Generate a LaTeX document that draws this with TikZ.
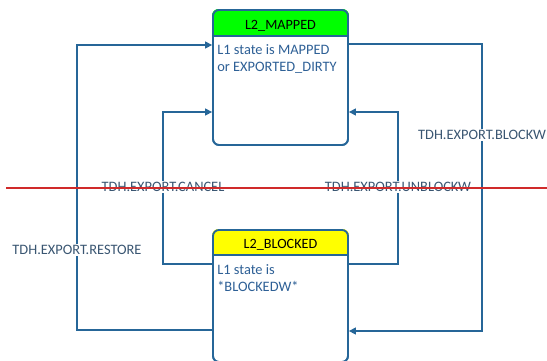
\documentclass[tikz,border=0pt]{standalone}
\usepackage{fontspec}
\setmainfont{Carlito}
\usetikzlibrary{arrows.meta}
\definecolor{wire}{RGB}{38,102,152}
\definecolor{bodytext}{RGB}{46,96,150}
\definecolor{lbltext}{RGB}{58,86,114}
\definecolor{cut}{RGB}{208,42,42}
\definecolor{hdrgreen}{RGB}{0,255,0}
\definecolor{hdryellow}{RGB}{255,255,0}
\tikzset{
  statebox/.style={draw=wire, line width=1.8pt, rounded corners=6pt,
    minimum width=135pt, inner sep=0pt, fill=white},
  headtext/.style={font=\fontsize{14.2}{17}\selectfont, text=black},
  bodytxt/.style={font=\fontsize{14.4}{17.5}\selectfont, text=bodytext,
    align=left, anchor=north west, inner sep=0pt},
  conn/.style={draw=wire, line width=1.3pt},
  arr/.style={conn, -{Triangle[length=7pt,width=7pt]}},
  lbl/.style={font=\fontsize{14.4}{17}\selectfont, text=lbltext, fill=white,
    inner sep=1.5pt},
}
\begin{document}
\begin{tikzpicture}[x=1pt,y=-1pt]
\useasboundingbox (0,0) rectangle (547,360);
\begin{scope}
\clip (0,0) rectangle (547,360);

% x positions of the vertical runs
\coordinate (restore x) at (77,0);
\coordinate (cancel x) at (163,0);
\coordinate (unblock x) at (398,0);
\coordinate (blockw x) at (482,0);

% states
\node[statebox, minimum height=135pt] (mapped) at (280.5,77.5) {};
\node[statebox, minimum height=132pt] (blocked) at (280.5,296) {};

% transitions
\draw[arr] ([yshift=-35pt]blocked.north west) -| (cancel x |- 0,112)
  -- (mapped.west |- 0,112);
\draw[arr] ([yshift=-101pt]blocked.north west) -| (restore x |- 0,45)
  -- (mapped.west |- 0,45);
\draw[arr] ([yshift=-35pt]blocked.north east) -| (unblock x |- 0,112)
  -- (mapped.east |- 0,112);
\draw[arr] ([yshift=-35pt]mapped.north east) -| (blockw x |- 0,331)
  -- (blocked.east |- 0,331);

% headers
\fill[hdrgreen] ([yshift=-27pt]mapped.north west) [rounded corners=6pt]
  -- (mapped.north west) -- (mapped.north east) [sharp corners]
  -- ([yshift=-27pt]mapped.north east) -- cycle;
\fill[hdryellow] ([yshift=-26pt]blocked.north west) [rounded corners=6pt]
  -- (blocked.north west) -- (blocked.north east) [sharp corners]
  -- ([yshift=-26pt]blocked.north east) -- cycle;
\draw[wire, line width=1.6pt] ([yshift=-27pt]mapped.north west)
  -- ([yshift=-27pt]mapped.north east);
\draw[wire, line width=1.6pt] ([yshift=-26pt]blocked.north west)
  -- ([yshift=-26pt]blocked.north east);
\node[statebox, minimum height=135pt, fill=none] at (mapped) {};
\node[statebox, minimum height=132pt, fill=none] at (blocked) {};

\node[headtext] (mappedhead) at ([yshift=-17pt]mapped.north) {L2\_MAPPED};
\node[headtext] (blockedhead) at ([yshift=-16pt]blocked.north) {L2\_BLOCKED};

\node[bodytxt] (mappedbody) at ([xshift=5pt,yshift=-35pt]mapped.north west)
  {L1 state is MAPPED\\or EXPORTED\_DIRTY};
\node[bodytxt] (blockedbody) at ([xshift=5pt,yshift=-35pt]blocked.north west)
  {L1 state is\\*BLOCKEDW*};

% transition labels
\node[lbl] (restore) at (77,250) {TDH.EXPORT.RESTORE};
\node[lbl] (cancel) at (163,187) {TDH.EXPORT.CANCEL};
\node[lbl] (unblock) at (398,187) {TDH.EXPORT.UNBLOCKW};
\node[lbl] (blockw) at (482,135) {TDH.EXPORT.BLOCKW};

% red cut line across the page
\coordinate (cut l) at (6,188);
\coordinate (cut r) at (547,188);
\draw[cut, line width=1.5pt] (cut l) -- (cut r);
\end{scope}
\end{tikzpicture}
\end{document}
